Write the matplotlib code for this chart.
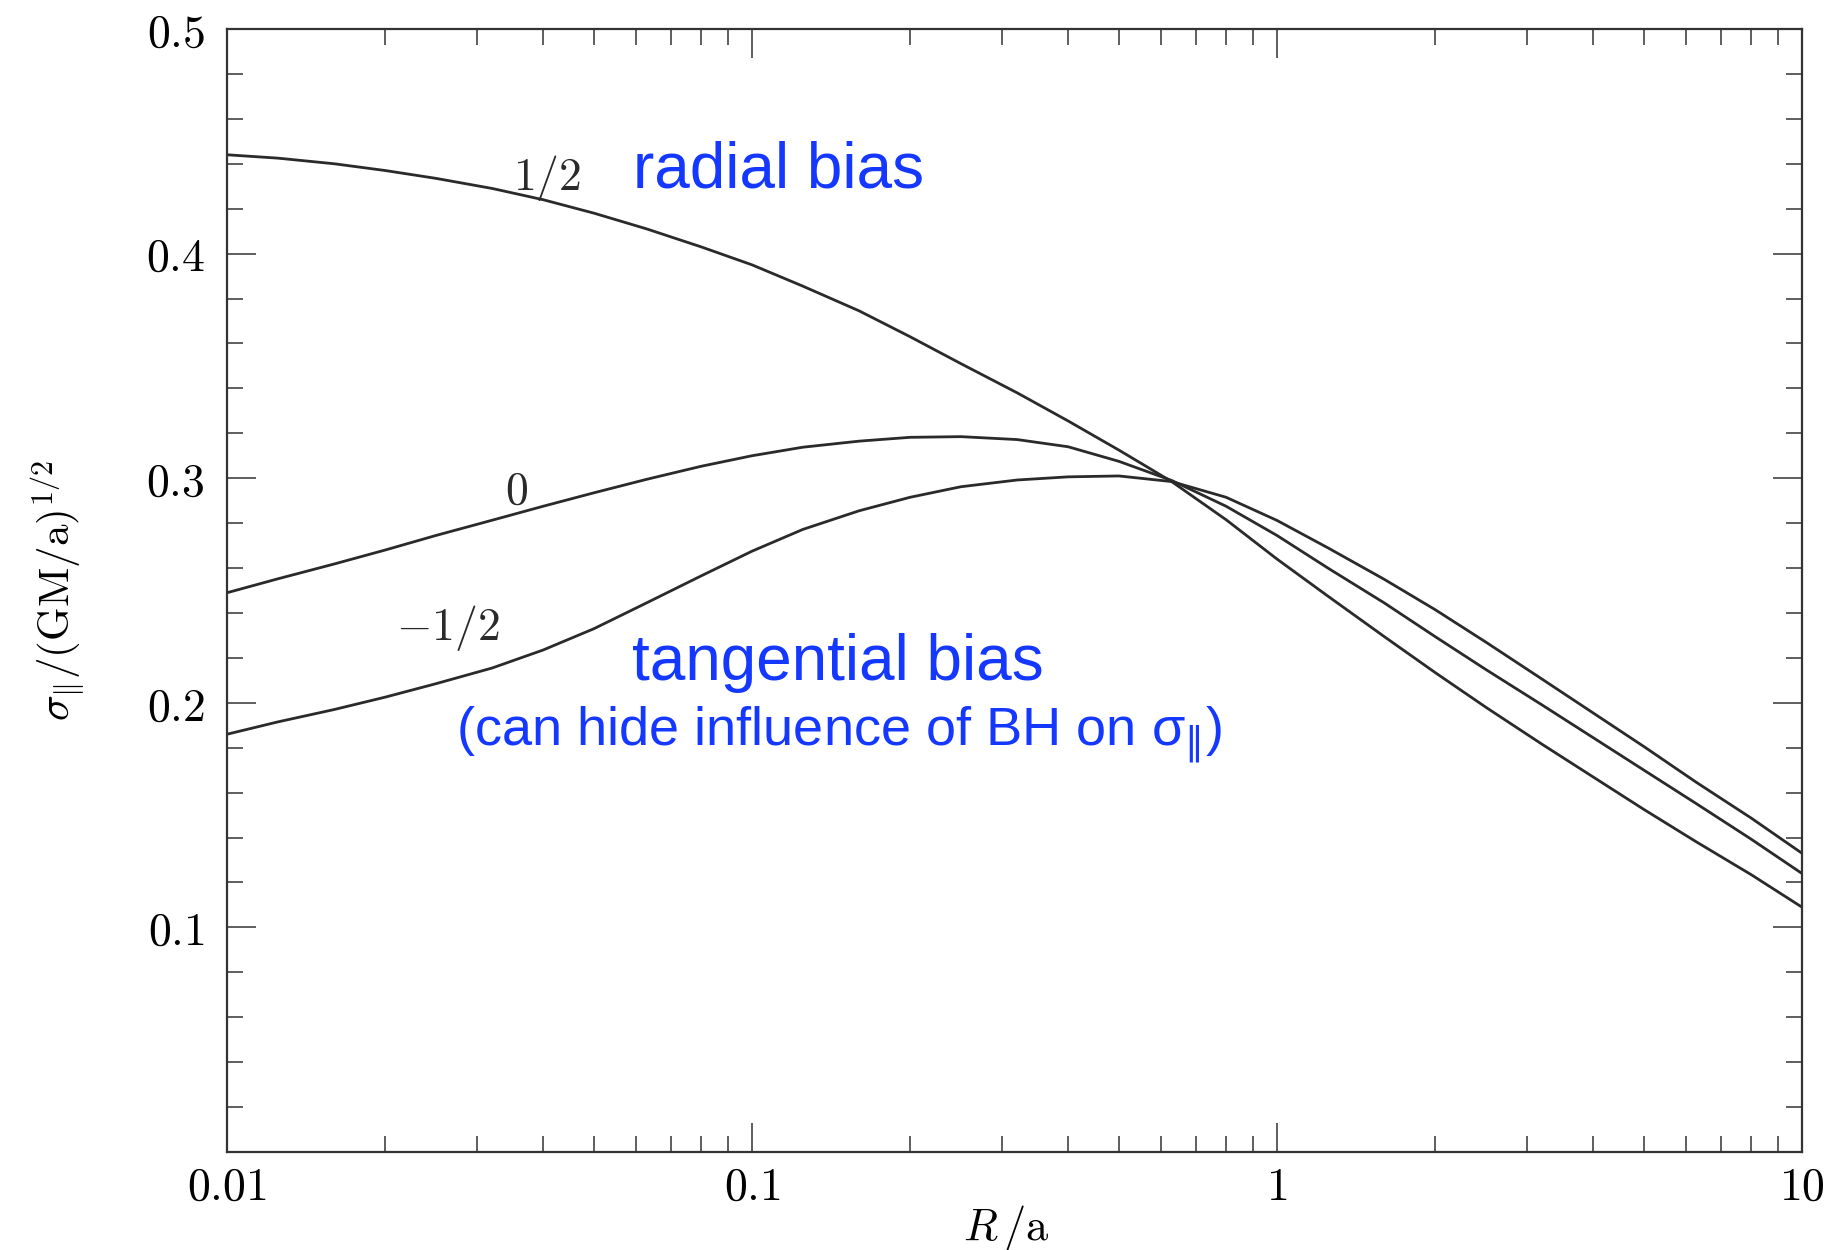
import numpy as np
import matplotlib
matplotlib.use("Agg")
import matplotlib.pyplot as plt
from matplotlib.ticker import FixedLocator, FixedFormatter, LogLocator, NullFormatter, MultipleLocator

plt.rcParams['mathtext.fontset'] = 'cm'

# projected dispersion vs radius
R = [0.01, 0.0125, 0.016, 0.02, 0.025, 0.032, 0.04, 0.05, 0.063, 0.08,
     0.1, 0.125, 0.16, 0.2, 0.25, 0.32, 0.4, 0.5, 0.63, 0.8,
     1.0, 1.25, 1.6, 2.0, 2.5, 3.2, 4.0, 5.0, 6.3, 8.0, 10.0]
sig_half = [0.444, 0.4425, 0.440, 0.437, 0.4335, 0.429, 0.424, 0.418, 0.411, 0.403,
            0.395, 0.3855, 0.3745, 0.363, 0.351, 0.338, 0.3255, 0.3125, 0.2985, 0.2815,
            0.264, 0.2475, 0.2295, 0.2135, 0.198, 0.1815, 0.167, 0.1525, 0.138, 0.1235, 0.109]
sig_zero = [0.249, 0.2552, 0.2618, 0.268, 0.2745, 0.2813, 0.2875, 0.2935, 0.2995, 0.3053,
            0.310, 0.3138, 0.3165, 0.3182, 0.3185, 0.3172, 0.314, 0.3075, 0.299, 0.2875,
            0.2745, 0.260, 0.2445, 0.2295, 0.2148, 0.199, 0.1845, 0.170, 0.155, 0.1393, 0.124]
sig_mhalf = [0.186, 0.1915, 0.197, 0.2025, 0.2085, 0.2155, 0.2235, 0.233, 0.2445, 0.2565,
             0.2675, 0.2772, 0.2855, 0.2915, 0.2962, 0.2992, 0.3006, 0.301, 0.2985, 0.2915,
             0.2812, 0.269, 0.255, 0.2415, 0.227, 0.2105, 0.1955, 0.1805, 0.1645, 0.1487, 0.133]

xticks = [0.01, 0.1, 1, 10]
xtick_labels = ['0.01', '0.1', '1', '10']
yticks = [0.1, 0.2, 0.3, 0.4, 0.5]
ytick_labels = ['0.1', '0.2', '0.3', '0.4', '0.5']

blue = '#1438ff'
ink = '#2a2a2a'

fig = plt.figure(figsize=(18.34, 12.5), dpi=100)
ax = fig.add_axes([227/1834, 1 - 1152/1250, 1575/1834, 1123/1250])

for s in [sig_half, sig_zero, sig_mhalf]:
    ax.plot(R, s, color=ink, lw=2.0, solid_joinstyle='round')

ax.set_xscale('log')
ax.set_xlim(0.01, 10)
ax.set_ylim(0, 0.5)

ax.xaxis.set_major_locator(FixedLocator(xticks))
ax.xaxis.set_major_formatter(FixedFormatter(['$%s$' % t for t in xtick_labels]))
ax.xaxis.set_minor_locator(LogLocator(base=10, subs=np.arange(2, 10)))
ax.xaxis.set_minor_formatter(NullFormatter())
ax.yaxis.set_major_locator(FixedLocator(yticks))
ax.yaxis.set_major_formatter(FixedFormatter(['$%s$' % t for t in ytick_labels]))
ax.yaxis.set_minor_locator(MultipleLocator(0.02))

ax.tick_params(which='both', direction='in', top=True, right=True, color='#333333')
ax.tick_params(which='major', length=21, width=1.1)
ax.tick_params(which='minor', length=11.5, width=1.1)
ax.tick_params(axis='x', which='major', labelsize=33, pad=9)
ax.tick_params(axis='y', which='major', labelsize=33, pad=16)
for sp in ax.spines.values():
    sp.set_linewidth(1.6)
    sp.set_color('#333333')

ax.set_xlabel(r'$R\,/\mathrm{a}$', fontsize=32, va='center')
ax.xaxis.set_label_coords(0.4946, -0.0677)
ax.set_ylabel(r'$\sigma_{\|}/(\mathrm{GM/a})^{1/2}$', fontsize=31, va='center', ha='center')
ax.yaxis.set_label_coords(-0.1073, 0.5)

# curve labels (anisotropy parameter)
ax.text(0.0407, 0.4337, r'$1/2$', fontsize=33, ha='center', va='center', color=ink)
ax.text(0.0356, 0.2943, r'$0$', fontsize=33, ha='center', va='center', color=ink)
ax.text(0.0264, 0.2333, r'$-1/2$', fontsize=33, ha='center', va='center', color=ink)

# blue annotations
ax.text(0.350, 0.874, 'radial bias', transform=ax.transAxes, fontsize=46,
        family='Liberation Sans', color=blue, ha='center', va='center')
ax.text(0.388, 0.435, 'tangential bias', transform=ax.transAxes, fontsize=46,
        family='Liberation Sans', color=blue, ha='center', va='center')
ax.text(0.3886, 0.371, r'(can hide influence of BH on σ$_{\|}$)', transform=ax.transAxes,
        fontsize=39, family='Liberation Sans', math_fontfamily='dejavusans',
        color=blue, ha='center', va='center')

fig.savefig('out.png', dpi=100)
